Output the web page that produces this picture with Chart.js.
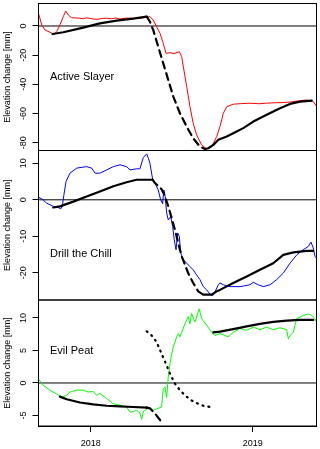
<!DOCTYPE html>
<html>
<head>
<meta charset="utf-8">
<script src="https://cdn.jsdelivr.net/npm/chart.js@4.4.0/dist/chart.umd.min.js"></script>
<style>
    html, body { margin: 0; padding: 0; background: #fff; }
    #wrap { position: relative; width: 320px; height: 449px; overflow: hidden; background: #fff; }
    #wrap canvas { position: absolute; left: 0; }
</style>
</head>
<body>
<div id="wrap">
    <canvas id="panel1" width="320" height="153" style="top:0px"></canvas>
    <canvas id="panel2" width="320" height="154" style="top:148px"></canvas>
    <canvas id="panel3" width="320" height="152" style="top:297px"></canvas>
</div>
<script>
// x axis is in decimal years
const xMin = 2017.678;
const xMax = 2019.394;
const yearTicks = [2018, 2019];
const yTitle = 'Elevation change [mm]';

// --- Active Slayer ---
const slayerTicks = [-80, -60, -40, -20, 0];
const slayerObsX = [2017.681, 2017.698, 2017.718, 2017.749, 2017.775, 2017.790, 2017.810, 2017.831, 2017.846, 2017.862,
    2017.883, 2017.934, 2017.955, 2017.975, 2018.016, 2018.045, 2018.070, 2018.099, 2018.130, 2018.155, 2018.181,
    2018.215, 2018.263, 2018.300, 2018.325, 2018.366, 2018.386, 2018.407, 2018.428, 2018.448, 2018.465, 2018.490,
    2018.514, 2018.547, 2018.562, 2018.572, 2018.593, 2018.613, 2018.633, 2018.654, 2018.685, 2018.716, 2018.747,
    2018.778, 2018.798, 2018.819, 2018.840, 2018.880, 2018.930, 2018.983, 2019.040, 2019.086, 2019.140, 2019.189,
    2019.240, 2019.292, 2019.333, 2019.374, 2019.393];
const slayerObsY = [7.5, 0.7, -2.7, -4.3, -5.7, -3.9, 0.7, 6.4, 10.3, 7.5,
    5.7, 5.3, 5.0, 5.6, 4.8, 4.6, 5.2, 5.3, 5.0, 5.5, 4.8,
    5.4, 5.3, 5.2, 5.7, 6.4, 4.1, -0.5, -5.0, -11.9, -18.7, -18.3,
    -18.9, -17.6, -21.0, -27.9, -41.6, -55.3, -66.7, -74.7, -81.5, -84.3, -82.7,
    -75.8, -69.0, -59.8, -55.3, -53.6, -53.2, -52.9, -53.3, -52.9, -52.6, -52.5,
    -52.0, -51.2, -50.7, -51.8, -54.8];
const slayerFitX = [2017.765, 2017.831, 2017.954, 2018.057, 2018.160, 2018.263, 2018.346];
const slayerFitY = [-5.5, -4.3, -1.1, 1.8, 3.7, 5.0, 6.4];
const slayerDropX = [2018.346, 2018.366, 2018.386, 2018.417, 2018.448, 2018.479, 2018.510, 2018.551, 2018.593,
    2018.633, 2018.675, 2018.706];
const slayerDropY = [6.4, 2.9, -2.7, -14.2, -25.6, -37.0, -48.4, -59.8, -69.0, -77.0, -82.7, -84.3];
const slayerRecX = [2018.706, 2018.726, 2018.757, 2018.788, 2018.840, 2018.880, 2018.942, 2019.004, 2019.086,
    2019.169, 2019.230, 2019.292, 2019.364];
const slayerRecY = [-84.3, -83.8, -81.5, -78.0, -75.8, -73.5, -70.0, -65.5, -60.9, -56.4, -53.4, -51.8, -51.1];

// --- Drill the Chill ---
const drillTicks = [-20, -10, 0, 10];
const drillObsX = [2017.681, 2017.698, 2017.728, 2017.769, 2017.800, 2017.815, 2017.825, 2017.835, 2017.848, 2017.872,
    2017.914, 2017.975, 2018.006, 2018.027, 2018.057, 2018.099, 2018.140, 2018.181, 2018.222, 2018.243, 2018.284,
    2018.304, 2018.325, 2018.346, 2018.356, 2018.366, 2018.383, 2018.397, 2018.417, 2018.432, 2018.444, 2018.452,
    2018.460, 2018.469, 2018.479, 2018.494, 2018.506, 2018.516, 2018.527, 2018.537, 2018.547, 2018.556, 2018.572,
    2018.593, 2018.613, 2018.633, 2018.654, 2018.675, 2018.695, 2018.716, 2018.736, 2018.753, 2018.773, 2018.788,
    2018.798, 2018.819, 2018.860, 2018.922, 2018.983, 2019.004, 2019.035, 2019.065, 2019.107, 2019.148, 2019.189,
    2019.230, 2019.272, 2019.312, 2019.343, 2019.360, 2019.374, 2019.385, 2019.393];
const drillObsY = [0.6, 0.3, -0.9, -1.8, -2.1, -2.5, -1.8, 1.4, 5.0, 7.3,
    8.7, 9.1, 8.7, 7.3, 7.3, 8.2, 9.1, 9.6, 9.1, 8.2, 8.5,
    8.5, 11.6, 12.6, 11.4, 10.0, 5.5, 4.6, 2.7, 0.0, -1.1, 2.7,
    0.9, -3.6, -5.5, -4.6, -7.3, -11.0, -13.7, -9.1, -10.0, -14.6, -16.4,
    -17.4, -18.3, -19.2, -20.6, -21.9, -23.8, -24.7, -25.8, -26.3, -24.7, -23.3,
    -22.8, -23.3, -23.8, -23.8, -23.3, -22.6, -23.3, -23.8, -23.3, -21.9, -20.1,
    -17.4, -15.1, -13.7, -12.8, -11.6, -13.2, -15.5, -16.0];
const drillFitX = [2017.769, 2017.810, 2017.893, 2017.975, 2018.057, 2018.140, 2018.222, 2018.284, 2018.383];
const drillFitY = [-2.1, -1.8, -0.5, 0.9, 2.3, 3.7, 4.8, 5.5, 5.5];
const drillDropX = [2018.383, 2018.397, 2018.417, 2018.438, 2018.459, 2018.479, 2018.500, 2018.520, 2018.541,
    2018.562, 2018.582, 2018.602, 2018.633, 2018.664, 2018.695];
const drillDropY = [5.5, 4.6, 3.8, 2.9, 0.9, -1.8, -5.0, -8.2, -11.9, -15.5, -17.8, -20.1, -22.8, -25.1, -26.0];
const drillRecX = [2018.695, 2018.747, 2018.778, 2018.798, 2018.880, 2018.963, 2019.045, 2019.127, 2019.189,
    2019.251, 2019.333, 2019.374];
const drillRecY = [-26.0, -26.0, -25.1, -24.7, -22.8, -21.0, -19.2, -17.4, -15.1, -14.4, -14.0, -14.0];

// --- Evil Peat ---
const peatTicks = [-5, 0, 5, 10];
const peatObsX = [2017.681, 2017.707, 2017.749, 2017.790, 2017.821, 2017.852, 2017.872, 2017.914, 2017.954, 2017.985,
    2018.016, 2018.037, 2018.057, 2018.099, 2018.140, 2018.181, 2018.222, 2018.243, 2018.263, 2018.284, 2018.304,
    2018.315, 2018.325, 2018.356, 2018.386, 2018.417, 2018.438, 2018.448, 2018.459, 2018.469, 2018.479, 2018.490,
    2018.500, 2018.510, 2018.531, 2018.541, 2018.551, 2018.562, 2018.582, 2018.602, 2018.613, 2018.623, 2018.644,
    2018.670, 2018.685, 2018.716, 2018.747, 2018.767, 2018.798, 2018.829, 2018.849, 2018.880, 2018.922, 2018.963,
    2019.004, 2019.045, 2019.086, 2019.127, 2019.169, 2019.210, 2019.220, 2019.230, 2019.251, 2019.261, 2019.272,
    2019.292, 2019.312, 2019.343, 2019.364, 2019.385, 2019.393];
const peatObsY = [0.5, -0.35, -1.1, -1.7, -2.2, -1.9, -1.4, -1.1, -1.1, -1.4,
    -1.3, -1.9, -1.6, -2.4, -3.2, -3.4, -3.7, -4.5, -4.4, -4.2, -4.6,
    -5.6, -4.4, -3.9, -4.2, -3.9, -3.7, -0.9, -0.6, -2.2, 0.9, 3.0,
    4.5, 5.5, 7.1, 7.6, 7.1, 7.8, 9.1, 10.2, 9.1, 10.7, 9.4,
    11.4, 9.9, 8.9, 7.8, 7.3, 7.6, 7.3, 7.1, 7.8, 8.4, 8.1,
    8.6, 8.2, 8.6, 8.2, 8.5, 8.2, 6.8, 7.3, 7.8, 8.9, 9.9,
    10.1, 10.4, 10.6, 10.4, 9.9, 9.4];
const peatFitX = [2017.810, 2017.852, 2017.934, 2018.016, 2018.099, 2018.181, 2018.263, 2018.346];
const peatFitY = [-2.1, -2.5, -3.0, -3.3, -3.5, -3.6, -3.7, -3.8];
const peatDropX = [2018.346, 2018.366, 2018.397, 2018.428, 2018.442];
const peatDropY = [-3.8, -3.9, -4.7, -5.7, -6.2];
const peatCurveX = [2018.346, 2018.377, 2018.407, 2018.438, 2018.469, 2018.490, 2018.520, 2018.551, 2018.582,
    2018.623, 2018.664, 2018.706, 2018.747];
const peatCurveY = [7.95, 7.3, 6.3, 4.5, 2.7, 1.4, -0.1, -1.1, -1.9, -2.7, -3.2, -3.6, -3.7];
const peatRecX = [2018.757, 2018.798, 2018.880, 2018.963, 2019.045, 2019.127, 2019.210, 2019.292, 2019.374];
const peatRecY = [7.8, 7.9, 8.3, 8.7, 9.1, 9.4, 9.6, 9.7, 9.7];

Chart.defaults.font.family = '"Liberation Sans", Arial, Helvetica, sans-serif';
Chart.defaults.color = '#000';

function pts(xs, ys) {
    return xs.map((x, i) => ({ x: x, y: ys[i] }));
}

function line(data, color, width, dash) {
    return {
        data: data,
        borderColor: color,
        borderWidth: width,
        borderDash: dash || [],
        borderCapStyle: 'round',
        borderJoinStyle: 'round',
        pointRadius: 0,
        tension: 0,
        fill: false
    };
}

// box round each panel, like R's box()
const framePlugin = {
    id: 'frame',
    afterDraw(chart) {
        const a = chart.chartArea;
        const ctx = chart.ctx;
        ctx.save();
        ctx.strokeStyle = '#000';
        ctx.lineWidth = 1;
        ctx.strokeRect(a.left, a.top, a.right - a.left, a.bottom - a.top);
        ctx.restore();
    }
};

const labelPlugin = {
    id: 'panelLabel',
    afterDatasetsDraw(chart, args, opts) {
        const ctx = chart.ctx;
        const x = chart.scales.x.getPixelForValue(opts.at[0]);
        const y = chart.scales.y.getPixelForValue(opts.at[1]);
        ctx.save();
        ctx.font = '11px "Liberation Sans", Arial, sans-serif';
        ctx.fillStyle = '#000';
        ctx.textBaseline = 'middle';
        ctx.textAlign = 'left';
        ctx.fillText(opts.text, x, y);
        ctx.restore();
    }
};

function makePanel(id, p) {
    const ctx = document.getElementById(id).getContext('2d');
    return new Chart(ctx, {
        type: 'line',
        data: {
            datasets: p.black.concat([
                line(p.obs, p.color, 1),
                line(pts([xMin, xMax], [0, 0]), '#000', 1)
            ])
        },
        options: {
            responsive: false,
            animation: false,
            layout: {
                padding: { left: 0, right: 3.5, top: p.padTop, bottom: p.padBottom }
            },
            plugins: {
                legend: { display: false },
                tooltip: { enabled: false },
                panelLabel: { text: p.label, at: p.labelAt }
            },
            scales: {
                x: {
                    type: 'linear',
                    min: xMin,
                    max: xMax,
                    display: p.showX,
                    afterBuildTicks: axis => { axis.ticks = yearTicks.map(v => ({ value: v })); },
                    afterFit: s => { s.height = p.showX ? 23 : 0; s.paddingLeft = 0; s.paddingRight = 0; },
                    ticks: {
                        callback: v => String(v),
                        font: { size: 9 },
                        color: '#000',
                        padding: 6,
                        maxRotation: 0,
                        autoSkip: false
                    },
                    grid: { drawOnChartArea: false, color: '#000', tickLength: 6 },
                    border: { color: '#000' }
                },
                y: {
                    type: 'linear',
                    min: p.min,
                    max: p.max,
                    afterBuildTicks: axis => { axis.ticks = p.ticks.map(v => ({ value: v })); },
                    afterFit: s => { s.width = 38.5; s.paddingTop = 0; s.paddingBottom = 0; },
                    ticks: {
                        callback: v => String(v),
                        font: { size: 9 },
                        color: '#000',
                        minRotation: 90,
                        maxRotation: 90,
                        crossAlign: 'center',
                        padding: p.tickPad,
                        autoSkip: false
                    },
                    grid: { drawOnChartArea: false, color: '#000', tickLength: 6 },
                    border: { color: '#000' },
                    title: {
                        display: true,
                        text: yTitle,
                        font: { size: 9 },
                        color: '#000',
                        padding: { top: 2, bottom: 0 }
                    }
                }
            }
        },
        plugins: [framePlugin, labelPlugin]
    });
}

makePanel('panel1', {
    label: 'Active Slayer',
    labelAt: [2017.749, -34.7],
    color: '#ff0000',
    min: -85.34,
    max: 15.42,
    ticks: slayerTicks,
    tickPad: 2.7,
    padTop: 3.5,
    padBottom: 2.5,
    showX: false,
    obs: pts(slayerObsX, slayerObsY),
    black: [
        line(pts(slayerFitX, slayerFitY), '#000', 2.2),
        line(pts(slayerDropX, slayerDropY), '#000', 2.2, [7, 5]),
        line(pts(slayerRecX, slayerRecY), '#000', 2.2)
    ]
});

makePanel('panel2', {
    label: 'Drill the Chill',
    labelAt: [2017.749, -14.8],
    color: '#0000ff',
    min: -27.47,
    max: 13.52,
    ticks: drillTicks,
    tickPad: 2.7,
    padTop: 2.5,
    padBottom: 2,
    showX: false,
    obs: pts(drillObsX, drillObsY),
    black: [
        line(pts(drillFitX, drillFitY), '#000', 2.2),
        line(pts(drillDropX, drillDropY), '#000', 2.2, [7, 5]),
        line(pts(drillRecX, drillRecY), '#000', 2.2)
    ]
});

makePanel('panel3', {
    label: 'Evil Peat',
    labelAt: [2017.749, 4.9],
    color: '#00ff00',
    min: -6.62,
    max: 12.77,
    ticks: peatTicks,
    tickPad: 4.2,
    padTop: 3,
    padBottom: 0,
    showX: true,
    obs: pts(peatObsX, peatObsY),
    black: [
        line(pts(peatFitX, peatFitY), '#000', 2.2),
        line(pts(peatDropX, peatDropY), '#000', 2.2, [7, 5]),
        line(pts(peatCurveX, peatCurveY), '#000', 2.2, [1, 5]),
        line(pts(peatRecX, peatRecY), '#000', 2.2)
    ]
});
</script>
</body>
</html>
